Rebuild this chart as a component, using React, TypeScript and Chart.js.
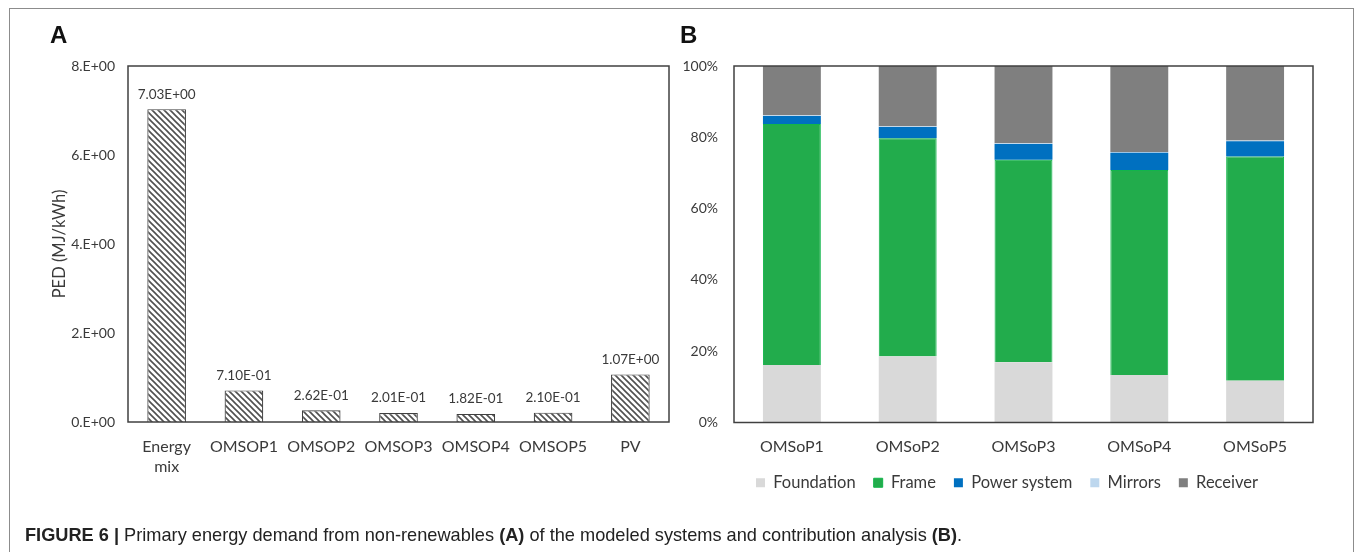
import React, { useEffect, useRef } from 'react';
import { Chart, registerables } from 'chart.js';

Chart.register(...registerables);

// ---------- Data ----------
const pedCategories: (string | string[])[] = [['Energy', 'mix'], 'OMSOP1', 'OMSOP2', 'OMSOP3', 'OMSOP4', 'OMSOP5', 'PV'];
const pedValues = [7.03, 0.71, 0.262, 0.201, 0.182, 0.21, 1.07];
const pedAxisTitle = 'PED (MJ/kWh)';
const pedMin = 0;
const pedMax = 8;
const pedStep = 2;

const contribCategories = ['OMSoP1', 'OMSoP2', 'OMSoP3', 'OMSoP4', 'OMSoP5'];
const foundationShare = [16.1, 18.5, 16.9, 13.3, 11.7];
const frameShare = [67.6, 61.2, 56.8, 57.5, 62.9];
const powerSystemShare = [2.3, 3.2, 4.4, 4.9, 4.3];
const mirrorsShare = [0.2, 0.2, 0.2, 0.2, 0.2];
const receiverShare = [13.8, 16.9, 21.7, 24.1, 20.9];
const contribSeriesNames = ['Foundation', 'Frame', 'Power system', 'Mirrors', 'Receiver'];

const captionBold = 'FIGURE 6 |';
const captionParts = [' Primary energy demand from non-renewables ', '(A)', ' of the modeled systems and contribution analysis ', '(B)', '.'];

// ---------- Helpers ----------
function sci(v: number, digits: number): string {
  if (v === 0) return (0).toFixed(digits) + (digits === 0 ? '.' : '') + 'E+00';
  let e = Math.floor(Math.log10(Math.abs(v)));
  let ms = (v / Math.pow(10, e)).toFixed(digits);
  if (Math.abs(parseFloat(ms)) >= 10) {
    e += 1;
    ms = (v / Math.pow(10, e)).toFixed(digits);
  }
  const mant = digits === 0 ? ms + '.' : ms;
  return `${mant}E${e < 0 ? '-' : '+'}${String(Math.abs(e)).padStart(2, '0')}`;
}

function makeHatch(): CanvasPattern | string {
  const c = document.createElement('canvas');
  const s = 6;
  c.width = s;
  c.height = s;
  const x = c.getContext('2d');
  if (!x) return '#fff';
  x.fillStyle = '#ffffff';
  x.fillRect(0, 0, s, s);
  x.strokeStyle = '#505050';
  x.lineWidth = 1.6;
  x.beginPath();
  x.moveTo(-1, -1);
  x.lineTo(s + 1, s + 1);
  x.moveTo(-1, s - 1);
  x.lineTo(1, s + 1);
  x.moveTo(s - 1, -1);
  x.lineTo(s + 1, 1);
  x.stroke();
  return x.createPattern(c, 'repeat') || '#fff';
}

const FONT = 'Lato';
const TEXT = '#3a3a3a';

const plotBox = {
  id: 'plotBox',
  afterDatasetsDraw(chart: any) {
    const { ctx, chartArea: a } = chart;
    ctx.save();
    ctx.strokeStyle = '#404040';
    ctx.lineWidth = 1.5;
    ctx.strokeRect(a.left, a.top, a.right - a.left, a.bottom - a.top);
    ctx.restore();
  },
};

const valueLabels = {
  id: 'valueLabels',
  afterDatasetsDraw(chart: any) {
    const { ctx } = chart;
    const meta = chart.getDatasetMeta(0);
    ctx.save();
    ctx.font = `13.5px ${FONT}`;
    ctx.fillStyle = TEXT;
    ctx.textAlign = 'center';
    ctx.textBaseline = 'middle';
    meta.data.forEach((bar: any, i: number) => {
      ctx.fillText(sci(pedValues[i], 2), bar.x, bar.y - 15);
    });
    ctx.restore();
  },
};

// shifts the legend so it is centred under the plot the way the reference is
const legendShift = {
  id: 'legendShift',
  afterLayout(chart: any) {
    const lg = chart.legend;
    if (!lg) return;
    const dx = 11.5;
    lg.left += dx;
    lg.right += dx;
  },
};

export default function App() {
  const leftRef = useRef<HTMLCanvasElement>(null);
  const rightRef = useRef<HTMLCanvasElement>(null);

  useEffect(() => {
    if (!leftRef.current || !rightRef.current) return;
    const hatch = makeHatch();

    const left = new Chart(leftRef.current, {
      type: 'bar',
      data: {
        labels: pedCategories as any,
        datasets: [
          {
            data: pedValues,
            backgroundColor: hatch as any,
            borderColor: '#404040',
            borderWidth: 1.2,
            barPercentage: 0.5,
            categoryPercentage: 1,
          },
        ],
      },
      options: {
        animation: false,
        responsive: false,
        events: [],
        layout: { padding: { top: 66, left: 0, right: 21, bottom: 70 } },
        plugins: { legend: { display: false }, tooltip: { enabled: false } },
        scales: {
          x: {
            grid: { display: false, drawTicks: false },
            border: { display: false },
            ticks: { color: TEXT, font: { family: FONT, size: 16, lineHeight: 1.3 }, padding: 14, maxRotation: 0, autoSkip: false },
            afterFit: (s: any) => { s.height = 60; },
          },
          y: {
            min: pedMin,
            max: pedMax,
            grid: { display: false, drawTicks: false },
            border: { display: false },
            ticks: { stepSize: pedStep, color: TEXT, font: { family: FONT, size: 14 }, padding: 13, callback: (v: any) => sci(Number(v), 0) },
            title: { display: true, text: pedAxisTitle, color: TEXT, font: { family: FONT, size: 16.5 }, padding: { top: 50, bottom: 0 } },
            afterFit: (s: any) => { s.width = 128; },
          },
        },
      },
      plugins: [plotBox, valueLabels],
    } as any);

    const series = [foundationShare, frameShare, powerSystemShare, mirrorsShare, receiverShare];
    const colors = ['#D9D9D9', '#22AC4C', '#0070C0', '#BDD7EE', '#7F7F7F'];
    const right = new Chart(rightRef.current, {
      type: 'bar',
      data: {
        labels: contribCategories,
        datasets: series.map((d, i) => ({
          label: contribSeriesNames[i],
          data: d,
          backgroundColor: colors[i],
          borderColor: i === 1 ? '#12B54A' : colors[i],
          borderWidth: i === 1 ? 1 : 0,
          barPercentage: 0.5,
          categoryPercentage: 1,
        })),
      },
      options: {
        animation: false,
        responsive: false,
        events: [],
        layout: { padding: { top: 66, left: 18, right: 42, bottom: 51 } },
        plugins: {
          tooltip: { enabled: false },
          legend: {
            display: true,
            position: 'bottom',
            labels: { boxWidth: 9, boxHeight: 9, padding: 18, color: TEXT, font: { family: FONT, size: 16.5 } },
          },
        },
        scales: {
          x: {
            stacked: true,
            grid: { display: false, drawTicks: false },
            border: { display: false },
            ticks: { color: TEXT, font: { family: FONT, size: 16, lineHeight: 1.3 }, padding: 14, maxRotation: 0 },
            afterFit: (s: any) => { s.height = 34; },
          },
          y: {
            stacked: true,
            min: 0,
            max: 100,
            grid: { display: false, drawTicks: false },
            border: { display: false },
            ticks: { stepSize: 20, color: TEXT, font: { family: FONT, size: 14 }, padding: 16, callback: (v: any) => `${v}%` },
            afterFit: (s: any) => { s.width = 56; },
          },
        },
      },
      plugins: [plotBox, legendShift],
    } as any);

    return () => {
      left.destroy();
      right.destroy();
    };
  }, []);

  return (
    <div style={{ position: 'fixed', left: 0, top: 0, width: 1355, height: 552, overflow: 'hidden', background: '#fff' }}>
      <div style={{ position: 'absolute', left: 9, top: 8, width: 1343, height: 700, border: '1px solid #8c8c8c' }} />
      <canvas ref={leftRef} width={690} height={552} style={{ position: 'absolute', left: 0, top: 0, width: 690, height: 552 }} />
      <canvas ref={rightRef} width={695} height={552} style={{ position: 'absolute', left: 660, top: 0, width: 695, height: 552 }} />
      <div style={{ position: 'absolute', left: 50, top: 23, font: 'bold 24px "Liberation Sans", Arial, sans-serif', lineHeight: '24px', color: '#111' }}>A</div>
      <div style={{ position: 'absolute', left: 680, top: 23, font: 'bold 24px "Liberation Sans", Arial, sans-serif', lineHeight: '24px', color: '#111' }}>B</div>
      <div style={{ position: 'absolute', left: 25, top: 525, font: '18.2px "Liberation Sans", Arial, sans-serif', lineHeight: '20px', color: '#222', whiteSpace: 'nowrap' }}>
        <b>{captionBold}</b>
        {captionParts[0]}
        <b>{captionParts[1]}</b>
        {captionParts[2]}
        <b>{captionParts[3]}</b>
        {captionParts[4]}
      </div>
    </div>
  );
}
